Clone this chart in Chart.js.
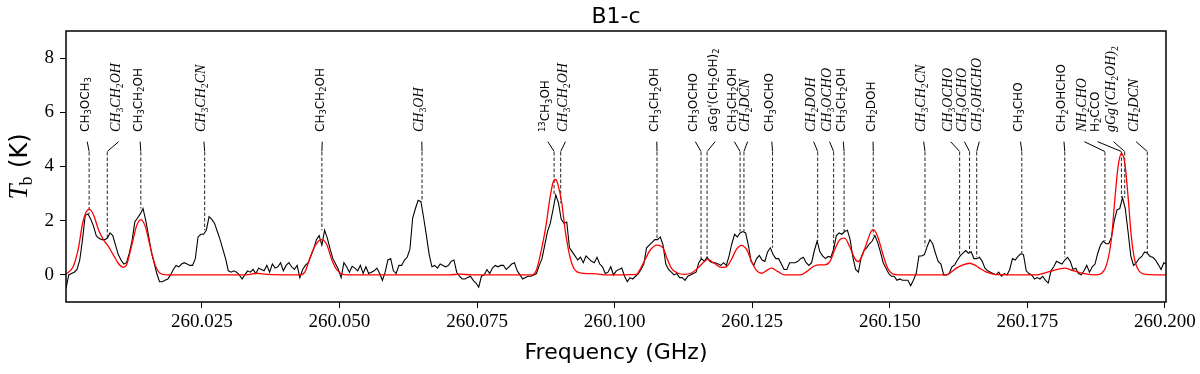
<!DOCTYPE html>
<html><head><meta charset="utf-8">
<script src="https://cdn.jsdelivr.net/npm/chart.js@4.4.0/dist/chart.umd.min.js"></script>
<style>html,body{margin:0;padding:0;background:#fff;}#wrap{width:1200px;height:374px;}</style>
</head><body><div id="wrap"><canvas id="c" width="1200" height="374"></canvas></div>
<script>
// ---------- data ----------
const obsStart = 260.0003;   // GHz, first channel
const obsStep = 0.0005;      // GHz per channel
const obsTb = [
 -0.5,0.0,0.05,0.1,0.2,0.55,1.3,2.2,2.25,2.05,
 1.8,1.45,1.35,1.3,1.3,1.35,1.55,1.45,1.1,0.75,
 0.55,0.4,0.45,0.8,1.25,1.95,2.1,2.25,2.45,2.0,
 1.45,0.85,0.45,0.05,-0.25,-0.25,-0.2,-0.15,0.0,0.2,
 0.35,0.3,0.4,0.45,0.4,0.35,0.35,0.6,1.4,1.5,
 1.5,1.65,2.15,2.05,1.9,1.6,1.3,0.95,0.6,0.15,
 0.1,0.15,0.1,0.0,-0.15,0.0,0.15,0.1,0.2,0.05,
 0.25,0.2,0.15,0.35,0.1,0.4,0.25,0.3,0.45,0.15,
 0.35,0.45,0.3,0.2,0.35,-0.1,0.2,0.35,0.45,0.7,
 0.95,1.3,1.45,1.1,1.65,1.35,0.95,0.6,0.4,0.2,
 -0.1,0.45,0.3,0.1,0.32,0.25,0.15,0.35,0.05,0.3,
 0.05,0.1,0.15,0.25,0.05,-0.2,0.1,0.55,0.6,0.15,
 0.05,0.35,0.35,0.55,0.65,0.95,2.1,2.45,2.75,2.7,
 2.1,1.45,0.75,0.3,0.35,0.25,0.4,0.35,0.3,0.35,
 0.5,0.55,0.1,-0.05,-0.15,-0.15,-0.1,-0.05,-0.2,-0.3,
 -0.45,-0.05,0.0,0.2,0.05,0.25,0.35,0.3,0.35,0.35,
 0.2,0.3,0.4,0.45,0.15,0.0,-0.15,-0.1,-0.05,-0.05,
 0.0,0.05,0.35,0.6,1.1,1.6,1.9,2.4,2.95,2.65,
 2.05,1.9,1.95,1.0,0.85,0.7,0.55,0.65,0.45,0.7,
 0.6,0.5,0.45,0.65,0.4,0.3,0.05,0.1,0.3,0.0,
 0.15,0.2,0.25,-0.05,-0.25,-0.1,-0.15,-0.05,0.05,0.2,
 0.4,1.0,1.1,1.2,1.3,1.3,1.4,1.1,0.4,0.2,
 0.1,0.0,0.05,-0.1,-0.1,-0.2,-0.05,0.0,0.05,0.1,
 0.45,0.6,0.5,0.65,0.5,0.45,0.45,0.4,0.35,0.45,
 0.35,0.7,1.15,1.5,1.4,1.55,1.6,1.55,1.1,0.5,
 0.35,0.6,0.72,0.55,0.5,0.85,1.0,0.75,0.6,0.6,
 0.4,0.2,0.2,0.45,0.45,0.45,0.5,0.6,0.65,0.45,
 0.35,0.45,0.9,1.25,0.85,0.7,0.6,0.68,0.65,0.95,
 1.45,1.55,1.5,1.6,1.65,1.3,0.65,0.2,0.1,0.65,
 0.9,1.0,1.15,1.25,1.45,1.2,0.85,0.45,0.25,0.05,
 -0.05,-0.05,-0.2,-0.15,-0.2,-0.2,-0.2,-0.4,-0.2,0.05,
 0.7,0.7,0.75,1.05,1.3,1.15,0.8,0.5,0.4,0.0,
 0.0,0.05,0.3,0.37,0.55,0.7,0.8,0.9,0.8,0.85,
 0.6,0.6,0.65,0.5,0.25,0.15,0.1,0.05,0.0,0.1,
 -0.05,0.05,0.0,0.2,0.6,0.55,0.68,0.78,0.75,0.15,
 0.05,0.0,-0.15,-0.1,-0.15,-0.05,-0.2,-0.3,0.15,0.3,
 0.5,0.45,0.4,0.55,0.65,0.5,0.2,0.25,0.05,0.0,
 0.15,0.35,0.1,0.3,0.4,0.8,1.1,1.25,1.15,1.15,
 1.4,2.0,2.4,2.45,2.85,2.45,1.6,0.7,0.35,0.45,
 0.6,0.68,0.85,0.8,0.68,0.65,0.55,0.38,0.2,0.45,
 0.4
];

const modelFreq = [
 260.0003,260.0016,260.0025,260.0034,260.0045,260.0053,260.0062,260.0071,260.0080,260.0089,
 260.0098,260.0107,260.0113,260.0122,260.0131,260.0139,260.0147,260.0156,260.0165,260.0174,
 260.0186,260.0331,260.0349,260.0368,260.0428,260.0437,260.0443,260.0452,260.0461,260.0468,
 260.0477,260.0486,260.0495,260.0504,260.0513,260.0700,260.0719,260.0740,260.0850,260.0858,
 260.0867,260.0876,260.0882,260.0888,260.0893,260.0897,260.0904,260.0910,260.0916,260.0922,
 260.0931,260.0943,260.0967,260.0985,260.1040,260.1046,260.1055,260.1064,260.1077,260.1088,
 260.1094,260.1103,260.1115,260.1127,260.1139,260.1151,260.1160,260.1169,260.1181,260.1194,
 260.1203,260.1212,260.1221,260.1230,260.1240,260.1249,260.1258,260.1267,260.1276,260.1285,
 260.1297,260.1309,260.1337,260.1349,260.1361,260.1370,260.1382,260.1391,260.1400,260.1409,
 260.1418,260.1427,260.1436,260.1442,260.1448,260.1457,260.1466,260.1470,260.1478,260.1487,
 260.1496,260.1505,260.1518,260.1603,260.1609,260.1621,260.1633,260.1645,260.1654,260.1663,
 260.1676,260.1694,260.1767,260.1779,260.1797,260.1818,260.1833,260.1851,260.1876,260.1885,
 260.1894,260.1903,260.1909,260.1915,260.1921,260.1927,260.1933,260.1939,260.1945,260.1954,
 260.1966,260.2002
];
const modelTb = [
 0.03,0.3,0.93,1.98,2.43,2.22,1.67,1.3,1.05,0.74,
 0.43,0.28,0.37,1.05,1.79,2.04,1.79,1.05,0.37,0.06,
 0.0,0.0,0.06,0.02,0.0,0.1,0.43,0.93,1.23,1.3,
 1.11,0.56,0.19,0.04,0.0,0.0,0.03,0.0,0.0,0.19,
 0.93,1.91,2.78,3.4,3.52,3.33,2.65,1.67,0.93,0.43,
 0.12,0.06,0.04,0.0,0.02,0.2,0.55,0.9,1.1,1.0,
 0.68,0.25,0.06,0.02,0.06,0.25,0.43,0.57,0.43,0.28,
 0.3,0.56,0.93,1.09,0.93,0.49,0.16,0.06,0.16,0.25,
 0.12,0.0,0.0,0.12,0.31,0.37,0.37,0.49,0.93,1.3,
 1.36,1.05,0.62,0.49,0.62,1.11,1.6,1.67,1.42,0.8,
 0.25,0.04,0.0,0.0,0.06,0.25,0.37,0.43,0.37,0.25,
 0.1,0.01,0.0,0.06,0.16,0.25,0.16,0.06,0.0,0.06,
 0.37,1.36,2.78,4.01,4.48,4.14,2.9,1.42,0.56,0.12,
 0.02,0.0
];

const lineFreqs = [
 260.0045,260.0078,260.0139,260.0255,260.0468,260.0650,260.0890,260.0902,260.1077,260.1157,
 260.1168,260.1228,260.1235,260.1287,260.1369,260.1398,260.1417,260.1470,260.1564,260.1627,
 260.1645,260.1658,260.1740,260.1818,260.1891,260.1921,260.1927,260.1968
];
const labelFreqs = [
 260.0038,260.0095,260.0134,260.0250,260.0465,260.0646,260.0875,260.0907,260.1073,260.1143,
 260.1179,260.1214,260.1238,260.1282,260.1358,260.1387,260.1412,260.1466,260.1558,260.1607,
 260.1632,260.1659,260.1734,260.1813,260.1850,260.1874,260.1903,260.1944
];
const labelTexts = [
 "CH_3OCH_3","CH_3CH_2OH","CH_3CH_2OH","CH_3CH_2CN","CH_3CH_2OH","CH_3OH","^{13}CH_3OH","CH_3CH_2OH","CH_3CH_2OH","CH_3OCHO",
 "aGg'(CH_2OH)_2","CH_3CH_2OH","CH_2DCN","CH_3OCHO","CH_2DOH","CH_3OCHO","CH_3CH_2OH","CH_2DOH","CH_3CH_2CN","CH_3OCHO",
 "CH_3OCHO","CH_2OHCHO","CH_3CHO","CH_2OHCHO","NH_2CHO","H_2CCO","gGg'(CH_2OH)_2","CH_2DCN"
];
const labelStyles = [
 "rm","it","rm","it","rm","it","rm","it","rm","rm",
 "rm","rm","it","rm","it","it","rm","rm","it","it",
 "it","it","rm","rm","it","rm","it","it"
];
const xTickValues = [260.025,260.050,260.075,260.100,260.125,260.150,260.175,260.200];
const xTickLabels = ["260.025","260.050","260.075","260.100","260.125","260.150","260.175","260.200"];
const yTickValues = [0,2,4,6,8];
const yTickLabels = ["0","2","4","6","8"];

// ---------- helpers ----------
function parseMarkup(s){
  const out=[]; let i=0;
  while(i<s.length){
    const ch=s[i];
    if(ch==='_'||ch==='^'){
      const mode=ch==='_'?'sub':'sup'; let t;
      if(s[i+1]==='{'){const j=s.indexOf('}',i+2); t=s.slice(i+2,j); i=j+1;}
      else {t=s[i+1]; i+=2;}
      out.push({t,mode});
    } else {
      let j=i; while(j<s.length&&s[j]!=='_'&&s[j]!=='^') j++;
      out.push({t:s.slice(i,j),mode:'n'}); i=j;
    }
  }
  return out;
}
function fontFor(style, mode, size){
  if(style==='it'){
    return mode==='n' ? ('italic '+size+'px "Liberation Serif"') : (size+'px "Liberation Serif"');
  }
  return size+'px "DejaVu Sans"';
}
function drawRich(ctx, parts, style, size, x, y){
  let cx=x;
  for(const p of parts){
    const sz = p.mode==='n'?size:size*0.7;
    ctx.font = fontFor(style,p.mode,sz);
    const dy = p.mode==='sub'? size*0.2 : (p.mode==='sup'? -size*0.4 : 0);
    ctx.fillText(p.t,cx,y+dy);
    cx += ctx.measureText(p.t).width;
  }
  return cx-x;
}
function obsAt(f){
  const k=(f-obsStart)/obsStep;
  const i0=Math.max(0,Math.floor(k)), i1=Math.min(obsTb.length-1,i0+1);
  return Math.max(obsTb[i0],obsTb[i1]);
}

const deco = {
  id:'deco',
  beforeDatasetsDraw(chart){
    const ctx=chart.ctx, xs=chart.scales.x, ys=chart.scales.y;
    const yLabelBottom=132, yConnTop=141.7, yConnBot=151.5;
    ctx.save();
    for(let k=0;k<lineFreqs.length;k++){
      const lx=xs.getPixelForValue(lineFreqs[k]);
      const tx=xs.getPixelForValue(labelFreqs[k]);
      ctx.strokeStyle='#000'; ctx.lineWidth=1; ctx.setLineDash([]);
      ctx.beginPath(); ctx.moveTo(tx+2,yConnTop); ctx.lineTo(lx,yConnBot); ctx.stroke();
      const ye=ys.getPixelForValue(obsAt(lineFreqs[k]));
      if(ye>yConnBot){
        ctx.strokeStyle='#222'; ctx.setLineDash([3.5,2]);
        ctx.beginPath(); ctx.moveTo(lx,yConnBot+0.5); ctx.lineTo(lx,ye); ctx.stroke();
      }
      ctx.setLineDash([]);
      const style=labelStyles[k];
      const size= style==='it'?14:12;
      ctx.save();
      ctx.translate(tx,yLabelBottom); ctx.rotate(-Math.PI/2);
      ctx.fillStyle='#000'; ctx.textAlign='left'; ctx.textBaseline='alphabetic';
      drawRich(ctx,parseMarkup(labelTexts[k]),style,size,0,3.5);
      ctx.restore();
    }
    ctx.restore();
  },
  afterDatasetsDraw(chart){
    const ctx=chart.ctx, a=chart.chartArea;
    ctx.save();
    ctx.strokeStyle='#000'; ctx.lineWidth=1.5;
    ctx.strokeRect(a.left,a.top,a.right-a.left,a.bottom-a.top);
    ctx.restore();
  },
  afterDraw(chart){
    const ctx=chart.ctx, a=chart.chartArea;
    const cx=(a.left+a.right)/2;
    ctx.save();
    ctx.fillStyle='#000'; ctx.textAlign='center'; ctx.textBaseline='alphabetic';
    ctx.font='22px "DejaVu Sans"';
    ctx.fillText('B1-c',cx,23);
    ctx.fillText('Frequency (GHz)',cx,359);
    const cy=(a.top+a.bottom)/2;
    ctx.translate(27,cy); ctx.rotate(-Math.PI/2);
    ctx.textAlign='left';
    const f1='italic 27px "Liberation Serif"', f2='18px "Liberation Serif"', f3='24px "DejaVu Sans"';
    ctx.font=f1; const w1=ctx.measureText('T').width;
    ctx.font=f2; const w2=ctx.measureText('b').width;
    ctx.font=f3; const w3=ctx.measureText(' (K)').width;
    let x0=-(w1+w2+w3)/2;
    ctx.font=f1; ctx.fillText('T',x0,0); x0+=w1-1;
    ctx.font=f2; ctx.fillText('b',x0,5); x0+=w2+1;
    ctx.font=f3; ctx.fillText(' (K)',x0,0);
    ctx.restore();
  }
};

const obsData = obsTb.map((v,i)=>({x:obsStart+i*obsStep,y:v}));
const modelData = modelTb.map((v,i)=>({x:modelFreq[i],y:v}));

new Chart(document.getElementById('c'),{
  type:'line',
  data:{datasets:[
    {label:'model',data:modelData,borderColor:'#ff0000',borderWidth:1.3,pointRadius:0,
     cubicInterpolationMode:'monotone',fill:false,order:0},
    {label:'observed',data:obsData,borderColor:'#000000',borderWidth:1.1,pointRadius:0,
     tension:0,fill:false,order:1}
  ]},
  options:{
    responsive:false,animation:false,devicePixelRatio:1,
    layout:{padding:{top:31,right:34,left:0,bottom:0}},
    plugins:{legend:{display:false},tooltip:{enabled:false},title:{display:false}},
    scales:{
      x:{type:'linear',min:260.0003,max:260.2002,
        afterBuildTicks:(s)=>{s.ticks=xTickValues.map(v=>({value:v}));},
        afterFit:(s)=>{s.height=72;},
        ticks:{callback:(v,i)=>xTickLabels[i],font:{family:'Liberation Serif',size:19},color:'#000',padding:3,maxRotation:0,autoSkip:false},
        grid:{display:true,drawOnChartArea:false,drawTicks:true,tickLength:6,color:'#000',lineWidth:1},
        border:{display:false}},
      y:{type:'linear',min:-1,max:9,
        afterBuildTicks:(s)=>{s.ticks=yTickValues.map(v=>({value:v}));},
        afterFit:(s)=>{s.width=66;},
        ticks:{callback:(v,i)=>yTickLabels[i],font:{family:'Liberation Serif',size:19},color:'#000',padding:6},
        grid:{display:true,drawOnChartArea:false,drawTicks:true,tickLength:6,color:'#000',lineWidth:1},
        border:{display:false}}
    }
  },
  plugins:[deco]
});
</script></body></html>
